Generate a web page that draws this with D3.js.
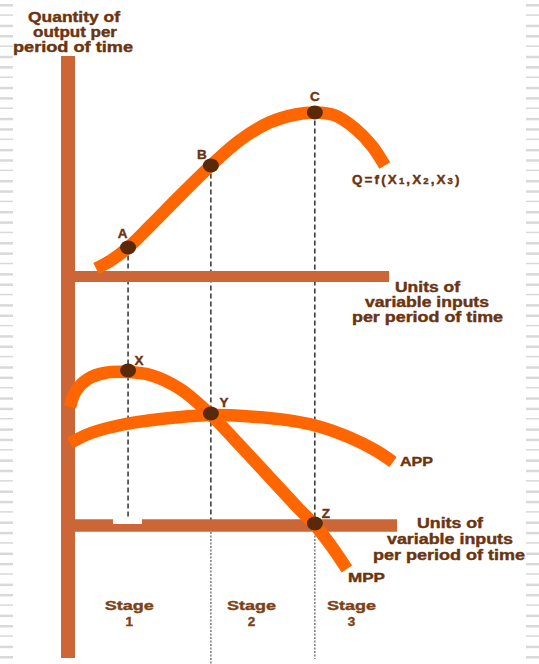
<!DOCTYPE html>
<html>
<head>
<meta charset="utf-8">
<script src="https://cdn.jsdelivr.net/npm/d3@7"></script>
<style>
body{margin:0;background:#fff;}
text{font-family:"Liberation Sans",Arial,sans-serif;font-weight:bold;}
</style>
</head>
<body>
<div id="my_dataviz"></div>
<script>
// total product curve (input units, output)
const tpInputs = [0.85, 1.3, 1.82, 2.5, 3.4, 4.33, 5.2, 6.1, 6.9, 7.48, 8.1, 8.7, 9.2, 9.6];
const tpOutput = [4, 8, 14.5, 25.5, 40.5, 55.5, 68, 77, 81, 82, 80.5, 74, 65.5, 55.5];

// marginal physical product
const mppInputs = [0.06, 0.24, 0.6, 1.1, 1.82, 2.5, 3.4, 4.33, 5.2, 6.1, 7.0, 7.48, 8.0, 8.45];
const mppValues = [59, 67, 73, 76, 76.5, 75, 68, 55, 40, 24, 8, 0, -11, -22];

// average physical product
const appInputs = [0.06, 0.7, 1.6, 2.8, 4.33, 5.5, 6.7, 7.6, 8.5, 9.3, 9.85];
const appValues = [41, 46, 50, 53, 55, 54.3, 52.3, 49.3, 44, 37.5, 31.5];

// marked points
const pointInputs = [1.82, 4.33, 7.48];
const topLabels = ["A", "B", "C"];
const topValues = [14.5, 55.5, 82];
const lowLabels = ["X", "Y", "Z"];
const lowValues = [76.5, 55, 0];

const stageNames = ["1", "2", "3"];

const W = 539, H = 664;
const axisColor = "#cd6636", curveColor = "#ff6600", dotColor = "#5a2a08", textColor = "#6b3410";

const svg = d3.select("#my_dataviz")
  .append("svg")
  .attr("width", W)
  .attr("height", H)
  .style("background", "#fff");

// scales
const x = d3.scaleLinear().domain([0, 10]).range([68, 398]);
const yTop = d3.scaleLinear().domain([0, 100]).range([276.5, 76.5]);
const yLow = d3.scaleLinear().domain([0, 100]).range([525, 325]);

// grey ruled marks on the page edges
const marks = d3.range(0, 64);
[[0, 13], [526, 13]].forEach(function (e) {
  svg.append("g").selectAll("rect")
    .data(marks)
    .enter()
    .append("rect")
    .attr("x", e[0])
    .attr("y", d => 4 + d * 10.35)
    .attr("width", e[1])
    .attr("height", (d, i) => i % 3 == 1 ? 1.5 : 2.5)
    .attr("fill", "#d9d9d9");
});

// dashed guide lines
const guides = svg.append("g");
const stagesEnd = [519, 525, 523];
pointInputs.forEach(function (u, i) {
  guides.append("line")
    .attr("x1", x(u)).attr("x2", x(u))
    .attr("y1", yTop(topValues[i])).attr("y2", stagesEnd[i])
    .attr("stroke", "#222").attr("stroke-width", 1.4)
    .attr("stroke-dasharray", "5,3");
});
guides.append("line")
  .attr("x1", x(pointInputs[1])).attr("x2", x(pointInputs[1]))
  .attr("y1", 532).attr("y2", 664)
  .attr("stroke", "#666").attr("stroke-width", 1.3).attr("stroke-dasharray", "2,1.5");
guides.append("line")
  .attr("x1", x(pointInputs[2])).attr("x2", x(pointInputs[2]))
  .attr("y1", 532).attr("y2", 659)
  .attr("stroke", "#666").attr("stroke-width", 1.3).attr("stroke-dasharray", "2,1.5");

// axes
svg.append("line")
  .attr("x1", x(0)).attr("x2", x(0))
  .attr("y1", 56).attr("y2", 658)
  .attr("stroke", axisColor).attr("stroke-width", 14);
svg.append("line")
  .attr("x1", x(0) - 7).attr("x2", x(9.73))
  .attr("y1", yTop(0)).attr("y2", yTop(0))
  .attr("stroke", axisColor).attr("stroke-width", 11);
svg.append("line")
  .attr("x1", x(0) - 7).attr("x2", x(9.97))
  .attr("y1", yLow(0) + 0.5).attr("y2", yLow(0) + 0.5)
  .attr("stroke", axisColor).attr("stroke-width", 12.5);
// small gap in the lower axis
svg.append("rect")
  .attr("x", 113).attr("y", 518.5)
  .attr("width", 29).attr("height", 5.5)
  .attr("fill", "#fff");

// curves
const lineTop = d3.line()
  .x(d => x(d[0]))
  .y(d => yTop(d[1]))
  .curve(d3.curveCatmullRom.alpha(0.5));
const lineLow = d3.line()
  .x(d => x(d[0]))
  .y(d => yLow(d[1]))
  .curve(d3.curveCatmullRom.alpha(0.5));

svg.append("path")
  .attr("d", lineTop(d3.zip(tpInputs, tpOutput)))
  .attr("fill", "none").attr("stroke", curveColor).attr("stroke-width", 12.5);
svg.append("path")
  .attr("d", lineLow(d3.zip(appInputs, appValues)))
  .attr("fill", "none").attr("stroke", curveColor).attr("stroke-width", 12.5);
svg.append("path")
  .attr("d", lineLow(d3.zip(mppInputs, mppValues)))
  .attr("fill", "none").attr("stroke", curveColor).attr("stroke-width", 12.5);

// points and their letters
const topOff = [[-5.5, -10], [-9, -7], [0, -12]];
const lowOff = [[11, -7], [13, -8], [11, -7]];

svg.append("g").selectAll("ellipse")
  .data(pointInputs)
  .enter()
  .append("ellipse")
  .attr("cx", d => x(d))
  .attr("cy", (d, i) => yTop(topValues[i]))
  .attr("rx", 8).attr("ry", 7)
  .attr("fill", dotColor);
svg.append("g").selectAll("ellipse")
  .data(pointInputs)
  .enter()
  .append("ellipse")
  .attr("cx", d => x(d))
  .attr("cy", (d, i) => yLow(lowValues[i]) - 1.5)
  .attr("rx", 8).attr("ry", 7)
  .attr("fill", dotColor);

svg.append("g").selectAll("text")
  .data(topLabels)
  .enter()
  .append("text")
  .text(d => d)
  .attr("x", (d, i) => x(pointInputs[i]) + topOff[i][0])
  .attr("y", (d, i) => yTop(topValues[i]) + topOff[i][1])
  .attr("text-anchor", "middle")
  .attr("font-size", 13.5)
  .attr("fill", textColor)
  .attr("stroke", textColor).attr("stroke-width", 0.4);
svg.append("g").selectAll("text")
  .data(lowLabels)
  .enter()
  .append("text")
  .text(d => d)
  .attr("x", (d, i) => x(pointInputs[i]) + lowOff[i][0])
  .attr("y", (d, i) => yLow(lowValues[i]) + lowOff[i][1])
  .attr("text-anchor", "middle")
  .attr("font-size", 13.5)
  .attr("fill", textColor)
  .attr("stroke", textColor).attr("stroke-width", 0.4);

// stretched text helper
function label(txt, cx, y, w, size, color) {
  const t = svg.append("text")
    .text(txt)
    .attr("x", cx)
    .attr("y", y)
    .attr("text-anchor", "middle")
    .attr("font-size", size || 14)
    .attr("fill", color || textColor)
    .attr("stroke", color || textColor)
    .attr("stroke-width", 0.4);
  if (w) t.attr("textLength", w).attr("lengthAdjust", "spacingAndGlyphs");
  return t;
}

// y axis title
label("Quantity of", 74, 21.7, 92);
label("output per", 75, 37.3, 84);
label("period of time", 73, 51.7, 120);

// x axis titles
label("Units of", 427.5, 291.7, 65);
label("variable inputs", 427, 306.7, 124);
label("per period of time", 427.5, 321.7, 151);

label("Units of", 450, 528, 66);
label("variable inputs", 450, 544, 126);
label("per period of time", 449, 560, 152);

// curve names
label("APP", 416.5, 466, 33, 13);
label("MPP", 366.5, 582, 37, 13);

const q = svg.append("text")
  .attr("x", 352)
  .attr("y", 184)
  .attr("font-size", 13.5)
  .attr("letter-spacing", 2.1)
  .attr("fill", textColor)
  .attr("stroke", textColor).attr("stroke-width", 0.4);
q.append("tspan").text("Q=f(X");
q.append("tspan").text("1").attr("font-size", 9.5);
q.append("tspan").text(",X");
q.append("tspan").text("2").attr("font-size", 9.5);
q.append("tspan").text(",X");
q.append("tspan").text("3").attr("font-size", 9.5);
q.append("tspan").text(")");

// stage labels
const stagePos = [1.86, 5.56, 8.59];
stageNames.forEach(function (s, i) {
  label("Stage", x(stagePos[i]), 610, 49, 13.5, "#7d4214");
  label(s, x(stagePos[i]), 625.5, null, 13.5, "#7d4214");
});
</script>
</body>
</html>
